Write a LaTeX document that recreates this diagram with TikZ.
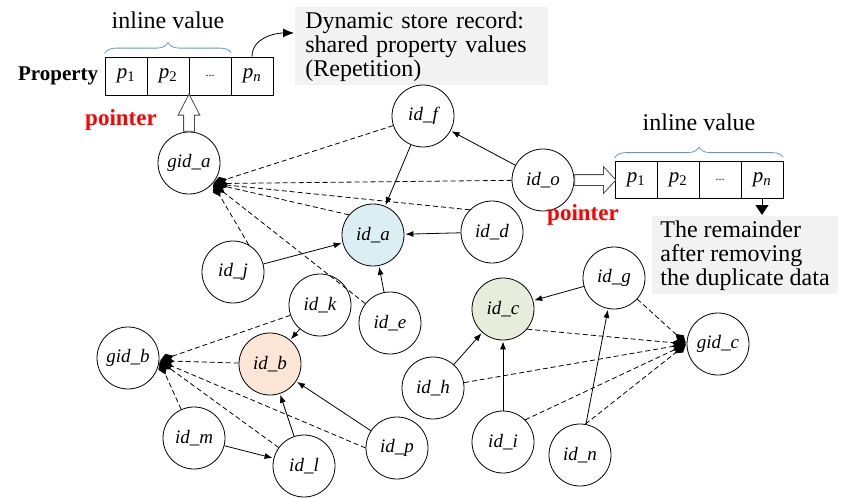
\documentclass[tikz,border=0pt]{standalone}
\usepackage{fontspec}
\setmainfont{Liberation Serif}
\usetikzlibrary{arrows.meta,positioning,shapes.arrows,decorations.pathreplacing}
\definecolor{fillA}{HTML}{DAEEF3}
\definecolor{fillB}{HTML}{FBE5D6}
\definecolor{fillC}{HTML}{E6EDDB}
\definecolor{braceblue}{HTML}{5B9BD5}

\begin{document}
\begin{tikzpicture}[->,>={Latex[length=8pt,width=6pt]},shorten >=1pt,auto,node distance=42pt,
            thick,x=1pt,y=-1pt,
            main node/.style={circle,draw,minimum size=62pt,inner sep=0pt,font=\fontsize{19}{22}\selectfont\itshape},
            cell/.style={draw,minimum width=42pt,minimum height=38pt,inner sep=0pt,font=\fontsize{21}{24}\selectfont},
            lbl/.style={inner sep=0pt,text=black,font=\fontsize{24}{24}\selectfont},
            note/.style={fill=black!5,align=left,inner xsep=10pt,inner ysep=4pt,anchor=north west,font=\fontsize{24}{24}\selectfont},
            ptr/.style={text=red,font=\fontsize{23}{24}\selectfont\bfseries},
            brace/.style={-,draw=braceblue,decorate,decoration={brace,amplitude=11pt,raise=3pt}},
            fat/.style={single arrow,draw=black!70,fill=white,inner sep=5pt,anchor=tail},
            agg/.style={dash pattern=on 5pt off 3pt,-{Diamond[length=14pt,width=9pt]}}]
        \useasboundingbox (0,0) rectangle (843,498);

        % Property record
        \node[cell] (c1) at (126,76) {\textit{p}\textsubscript{1}};
        \node[cell] (c2) [right of=c1] {\textit{p}\textsubscript{2}};
        \node[cell] (c3) [right of=c2] {\fontsize{12}{12}\selectfont...};
        \node[cell] (c4) [right of=c3] {\textit{p}\textsubscript{\textit{n}}};
        \node[inner sep=0pt,font=\fontsize{21}{24}\selectfont\bfseries,left=6pt of c1] (prop) {Property};
        \draw[brace] (c1.north west) -- (c3.north east) node[midway,above=27pt,lbl] {inline value};
        \node[note,text width=233pt] (dyn) at (295,7) {Dynamic store record:\\shared property values\\(Repetition)};
        \draw[-{Latex[length=11pt,width=9pt]}] (c4.north) to[out=90,in=180] (dyn.174);

        % Define vertices
        \node[main node] (ga) at (189,163) {gid\_a};
        \node[main node] (f) at (423,116) {id\_f};
        \node[main node] (o) at (543,180) {id\_o};
        \node[main node,fill=fillA] (a) at (373,235) {id\_a};
        \node[main node] (d) at (492,232) {id\_d};
        \node[main node] (j) at (233,272) {id\_j};
        \node[main node] (k) at (320,305) {id\_k};
        \node[main node] (e) at (390,323) {id\_e};
        \node[main node] (gb) at (128,358) {gid\_b};
        \node[main node,fill=fillB] (b) at (270,364) {id\_b};
        \node[main node] (m) at (194,438) {id\_m};
        \node[main node] (l) at (304,466) {id\_l};
        \node[main node] (p) at (397,448) {id\_p};
        \node[main node,fill=fillC] (c) at (503,309) {id\_c};
        \node[main node] (g) at (614,278) {id\_g};
        \node[main node] (gc) at (718,344) {gid\_c};
        \node[main node] (h) at (433,388) {id\_h};
        \node[main node] (i) at (503,442) {id\_i};
        \node[main node] (n) at (580,455) {id\_n};

        % inline record of id_o
        \node[cell,minimum height=37pt] (q1) at (636,180) {\textit{p}\textsubscript{1}};
        \node[cell,minimum height=37pt] (q2) [right of=q1] {\textit{p}\textsubscript{2}};
        \node[cell,minimum height=37pt] (q3) [right of=q2] {\fontsize{12}{12}\selectfont...};
        \node[cell,minimum height=37pt] (q4) [right of=q3] {\textit{p}\textsubscript{\textit{n}}};
        \draw[brace] (q1.north west) -- (q4.north east) node[midway,above=30pt,lbl] {inline value};
        \node[note,inner xsep=8pt] (rem) at (652,216) {The remainder\\after removing\\the duplicate data};
        \draw[-{Triangle[length=10pt,width=13pt]}] (q4.south) -- (q4.south |- rem.north);

        % pointers
        \node[fat,rotate=90,single arrow tip angle=55,single arrow head extend=5.5pt,minimum height=37pt] (upa) at (ga.north) {};
        \node[fat,single arrow tip angle=95,single arrow head extend=8pt,minimum height=41pt] (rto) at (o.east) {};
        \node[ptr] (ptra) at (121,120) {pointer};
        \node[ptr] (ptrb) at (583,215) {pointer};

        % group points
        \coordinate (ha) at (ga.-41);
        \coordinate (hb) at (gb.-5);
        \coordinate (hc) at (gc.180);

        % Draw edges
        \path
            (f) edge (a)
            (o) edge (f)
            (d) edge (a)
            (j) edge (a)
            (e) edge (a)
            (k) edge (b)
            (l) edge (b)
            (p) edge (b)
            (m) edge (l)
            (g) edge (c)
            (h) edge (c)
            (i) edge (c)
            (n) edge (g);

        \path[agg]
            (f) edge (ha)
            (o) edge (ha)
            (d.135) edge (ha)
            (a.140) edge (ha)
            (j.60) edge (ha)
            (e) edge (ha)
            (k) edge (hb)
            (b) edge (hb)
            (p.180) edge (hb)
            (l) edge (hb)
            (m) edge (hb)
            (g) edge (hc)
            (c.-40) edge (hc)
            (h) edge (hc)
            (i.45) edge (hc)
            (n.80) edge (hc);

        \end{tikzpicture}
\end{document}
